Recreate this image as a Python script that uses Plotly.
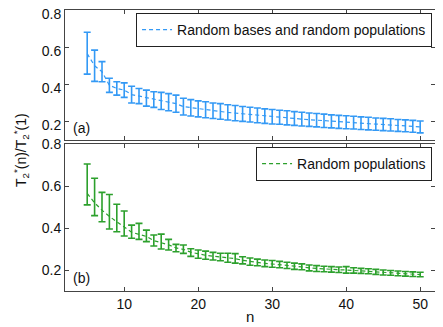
import plotly.graph_objects as go

n = list(range(5, 51))

# (a) random bases and random populations
azul_media = [
    0.565, 0.50, 0.468, 0.395, 0.378, 0.369, 0.345, 0.337, 0.326, 0.318,
    0.311, 0.304, 0.296, 0.280, 0.274, 0.268, 0.263, 0.258, 0.254, 0.249,
    0.245, 0.241, 0.237, 0.233, 0.229, 0.226, 0.223, 0.220, 0.216, 0.213,
    0.210, 0.207, 0.204, 0.201, 0.198, 0.196, 0.194, 0.191, 0.189, 0.186,
    0.184, 0.182, 0.179, 0.177, 0.174, 0.171,
]
azul_erro_sup = [
    0.115, 0.084, 0.054, 0.038, 0.036, 0.039, 0.045, 0.041, 0.043, 0.042,
    0.046, 0.046, 0.046, 0.045, 0.044, 0.043, 0.043, 0.042, 0.042, 0.041,
    0.041, 0.040, 0.040, 0.040, 0.039, 0.039, 0.038, 0.038, 0.037, 0.037,
    0.036, 0.036, 0.036, 0.035, 0.035, 0.035, 0.034, 0.034, 0.034, 0.033,
    0.033, 0.033, 0.032, 0.032, 0.032, 0.032,
]
azul_erro_inf = [
    0.110, 0.084, 0.054, 0.038, 0.036, 0.039, 0.045, 0.041, 0.043, 0.042,
    0.046, 0.046, 0.046, 0.045, 0.044, 0.043, 0.043, 0.042, 0.042, 0.041,
    0.041, 0.040, 0.040, 0.040, 0.039, 0.039, 0.038, 0.038, 0.037, 0.037,
    0.036, 0.036, 0.036, 0.035, 0.035, 0.035, 0.034, 0.034, 0.034, 0.033,
    0.033, 0.033, 0.032, 0.032, 0.032, 0.032,
]

# (b) random populations
verde_media = [
    0.565, 0.520, 0.485, 0.455, 0.430, 0.405, 0.380, 0.370, 0.360, 0.340,
    0.330, 0.320, 0.305, 0.298, 0.285, 0.276, 0.270, 0.266, 0.262, 0.258,
    0.254, 0.246, 0.240, 0.236, 0.232, 0.229, 0.226, 0.222, 0.218, 0.215,
    0.210, 0.207, 0.205, 0.203, 0.201, 0.200, 0.198, 0.196, 0.194, 0.191,
    0.188, 0.186, 0.184, 0.182, 0.180, 0.178,
]
verde_erro_sup = [
    0.140, 0.117, 0.085, 0.105, 0.083, 0.076, 0.034, 0.052, 0.030, 0.027,
    0.041, 0.026, 0.017, 0.021, 0.016, 0.019, 0.020, 0.018, 0.018, 0.022,
    0.024, 0.017, 0.017, 0.016, 0.016, 0.016, 0.015, 0.015, 0.015, 0.014,
    0.014, 0.014, 0.013, 0.013, 0.013, 0.016, 0.013, 0.012, 0.012, 0.012,
    0.012, 0.012, 0.011, 0.011, 0.011, 0.011,
]
verde_erro_inf = [
    0.055, 0.061, 0.055, 0.060, 0.048, 0.043, 0.029, 0.024, 0.025, 0.026,
    0.030, 0.025, 0.018, 0.019, 0.020, 0.020, 0.019, 0.018, 0.018, 0.021,
    0.021, 0.017, 0.017, 0.016, 0.016, 0.016, 0.015, 0.015, 0.015, 0.014,
    0.014, 0.014, 0.013, 0.013, 0.013, 0.015, 0.013, 0.012, 0.012, 0.012,
    0.012, 0.011, 0.011, 0.011, 0.011, 0.010,
]

AZUL = "#3399f5"
VERDE = "#2ca02c"
FONTE = "Liberation Sans, Arial, sans-serif"

# a página tem 8px de margem no body: a figura fica 8px menor
_EIXO = {
    "showline": True,
    "linecolor": "#444",
    "linewidth": 1,
    "mirror": "ticks",
    "ticks": "inside",
    "ticklen": 4,
    "tickcolor": "#444",
    "showgrid": False,
    "zeroline": False,
    "automargin": False,
    "ticklabeloverflow": "allow",
}


def serie(y, sup, inf, cor, nome, eixo_x, eixo_y, legenda):
    return go.Scatter(
        x=n,
        y=y,
        mode="lines",
        name=nome,
        line={"color": cor, "width": 1.2, "dash": "4px,3px"},
        error_y={
            "type": "data",
            "symmetric": False,
            "array": sup,
            "arrayminus": inf,
            "color": cor,
            "thickness": 1.6,
            "width": 3.5,
        },
        xaxis=eixo_x,
        yaxis=eixo_y,
        legend=legenda,
    )


fig = go.Figure()
fig.add_trace(serie(azul_media, azul_erro_sup, azul_erro_inf, AZUL,
                    "Random bases and random populations", "x", "y", "legend"))
fig.add_trace(serie(verde_media, verde_erro_sup, verde_erro_inf, VERDE,
                    "Random populations", "x2", "y2", "legend2"))

_LEG = {
    "xanchor": "right",
    "yanchor": "top",
    "bgcolor": "white",
    "bordercolor": "#222",
    "borderwidth": 1,
    "font": {"size": 14, "color": "#111"},
    "itemwidth": 30,
    "tracegroupgap": 0,
}

fig.update_layout(
    width=435,
    height=319,
    margin={"l": 57, "r": 8, "t": 2, "b": 36, "autoexpand": False},
    plot_bgcolor="white",
    paper_bgcolor="white",
    font={"family": FONTE, "size": 14, "color": "#111"},
    xaxis={**_EIXO, "domain": [0, 1], "anchor": "y", "range": [2, 52],
           "tickvals": [10, 20, 30, 40, 50], "showticklabels": False},
    yaxis={**_EIXO, "domain": [0.537, 1], "anchor": "x", "range": [0.1, 0.8],
           "tickvals": [0.2, 0.4, 0.6, 0.8], "ticklabelshift": 4},
    xaxis2={**_EIXO, "domain": [0, 1], "anchor": "y2", "range": [2, 52],
            "tickvals": [10, 20, 30, 40, 50]},
    yaxis2={**_EIXO, "domain": [0, 0.523], "anchor": "x2", "range": [0.1, 0.8],
            "tickvals": [0.2, 0.4, 0.6, 0.8]},
    legend={**_LEG, "x": 0.992, "y": 0.989},
    legend2={**_LEG, "x": 0.992, "y": 0.5125},
    showlegend=True,
    annotations=[
        {"text": "(a)", "x": 0.015, "y": 0.02, "xref": "x domain", "yref": "y domain",
         "xanchor": "left", "yanchor": "bottom", "showarrow": False, "font": {"size": 14}},
        {"text": "(b)", "x": 0.015, "y": 0.02, "xref": "x2 domain", "yref": "y2 domain",
         "xanchor": "left", "yanchor": "bottom", "showarrow": False, "font": {"size": 14}},
        {"text": "n", "x": 0.5, "y": -0.092, "xref": "paper", "yref": "paper",
         "xanchor": "center", "yanchor": "middle", "showarrow": False, "font": {"size": 15}},
        {"text": "T<sub>2</sub><sup>*</sup>(n)/T<sub>2</sub><sup>*</sup>(1)",
         "x": -0.12, "y": 0.50, "xref": "paper", "yref": "paper",
         "xanchor": "center", "yanchor": "middle", "textangle": -90,
         "showarrow": False, "font": {"size": 14}},
    ],
)

fig.write_html("out.html")
